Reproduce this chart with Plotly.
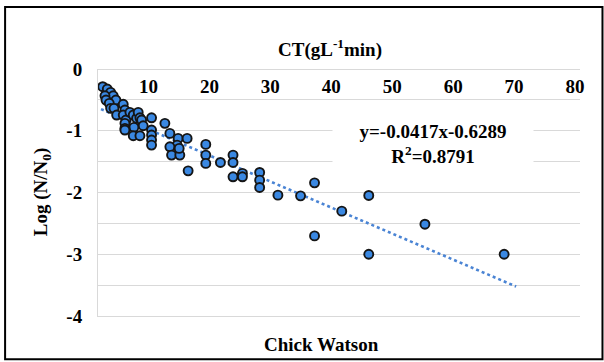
import plotly.graph_objects as go

# ---------------- data ----------------
ct_values = [0.78, 1.54, 2.10, 2.53, 1.16, 1.33, 2.98, 1.87, 2.10, 2.65, 3.10, 4.19, 4.47, 4.19,
             4.64, 5.30, 5.85, 6.41, 6.67, 6.96, 7.24, 7.50, 5.96, 5.85, 6.96, 8.89, 8.89, 8.89,
             8.89, 8.89, 11.10, 11.93, 13.30, 14.79, 13.13, 11.93, 12.21, 13.58, 13.47, 14.96,
             17.89, 17.89, 17.89, 20.32, 22.41, 22.41, 22.41, 23.97, 23.97, 26.83, 26.83, 26.83,
             29.86, 33.62, 35.94, 40.46, 44.94, 35.94, 44.94, 54.26, 67.41, 4.47, 4.47, 4.47]
log_ratio = [-0.287, -0.324, -0.378, -0.433, -0.433, -0.503, -0.503, -0.556, -0.637, -0.637,
             -0.746, -0.572, -0.665, -0.746, -0.827, -0.702, -0.746, -0.799, -0.702, -0.790,
             -0.827, -0.919, -0.945, -1.081, -1.081, -0.790, -0.989, -1.070, -1.151, -1.232,
             -0.880, -1.043, -1.124, -1.124, -1.232, -1.260, -1.394, -1.394, -1.286, -1.649,
             -1.221, -1.394, -1.529, -1.513, -1.394, -1.513, -1.746, -1.691, -1.746, -1.675,
             -1.800, -1.918, -2.043, -2.054, -1.844, -2.302, -2.048, -2.703, -3.000, -2.513,
             -3.000, -0.880, -0.962, -0.989]

trend_slope = -0.0417
trend_intercept = -0.6289
trend_x_span = [0.5, 69.4]
equation_lines = ["y=-0.0417x-0.6289", "R<sup>2</sup>=0.8791"]

x_ticks = [10, 20, 30, 40, 50, 60, 70, 80]
y_ticks = [0, -1, -2, -3, -4]
y_minor_grid = [-0.5, -1.5, -2.5, -3.5]

x_title = "CT(gL<sup>-1</sup>min)"
bottom_title = "Chick Watson"
y_title = "Log (N/N<sub>0</sub>)"

# ---------------- layout geometry (pixels) ----------------
W, H = 604, 362
PL, PR, PT, PB = 98, 580.5, 69, 315.7


def px_x(p):
    return (p - PL) / (PR - PL)


def px_y(p):
    return (PB - p) / (PB - PT)


FONT = "'Liberation Serif', 'Times New Roman', serif"
FS = 19
BLUE = "#3A88E2"
GRID = "#D9D9D9"

trend_y = [trend_slope * v + trend_intercept for v in trend_x_span]

fig = go.Figure()
fig.add_trace(go.Scatter(
    x=trend_x_span, y=trend_y, mode="lines",
    line=dict(color="#4A84D4", width=2.6, dash="dot"),
    hoverinfo="skip", showlegend=False))
fig.add_trace(go.Scatter(
    x=ct_values, y=log_ratio, mode="markers",
    marker=dict(size=9, color=BLUE, line=dict(color="#151515", width=1.9)),
    showlegend=False))

# label-only axis for the CT tick labels drawn under the top edge
fig.add_trace(go.Scatter(x=[x_ticks[0]], y=[0], xaxis="x2", mode="markers",
                         marker=dict(opacity=0), hoverinfo="skip", showlegend=False))

fig.update_layout(
    width=W, height=H,
    margin=dict(l=PL, r=W - PR, t=PT, b=H - PB, pad=0),
    paper_bgcolor="white", plot_bgcolor="white",
    font=dict(family=FONT, color="black"),
    xaxis=dict(range=[0, 80], showgrid=False, zeroline=False, showticklabels=False,
               ticks="", showline=True, linecolor=GRID, linewidth=1),
    xaxis2=dict(overlaying="x", anchor="free", position=1, side="bottom",
                range=[1.72, 80.82],
                tickvals=x_ticks, ticktext=[f"<b>{v}</b>" for v in x_ticks],
                ticks="", showgrid=False, zeroline=False,
                showline=False, tickfont=dict(family=FONT, size=FS, color="black"),
                ticklabelstandoff=4),
    yaxis=dict(range=[-4, 0], tickvals=y_ticks,
               ticktext=[f"<b>{t}</b>" for t in y_ticks],
               showgrid=True, gridcolor=GRID, gridwidth=1,
               minor=dict(tickvals=y_minor_grid, showgrid=True, gridcolor=GRID,
                          gridwidth=1, ticks=""),
               zeroline=True, zerolinecolor=GRID, zerolinewidth=1,
               showline=True, linecolor=GRID, linewidth=1, ticks="",
               tickfont=dict(family=FONT, size=FS, color="black"),
               ticklabelstandoff=11),
    annotations=[
        dict(text=f"<b>{x_title}</b>", xref="paper", yref="paper",
             x=px_x(330.5), y=px_y(49), xanchor="center", yanchor="middle",
             showarrow=False, font=dict(family=FONT, size=FS, color="black")),
        dict(text=f"<b>{bottom_title}</b>", xref="paper", yref="paper",
             x=px_x(322), y=px_y(344), xanchor="center", yanchor="middle",
             showarrow=False, font=dict(family=FONT, size=FS, color="black")),
        dict(text=f"<b>{y_title}</b>", xref="paper", yref="paper",
             x=px_x(42), y=px_y(192), xanchor="center", yanchor="middle",
             textangle=-90, showarrow=False,
             font=dict(family=FONT, size=FS, color="black")),
        dict(text="<b>" + "<br>".join(equation_lines) + "</b>", xref="paper", yref="paper",
             x=px_x(433), y=px_y(144), xanchor="center", yanchor="middle",
             width=198, align="center", bgcolor="white", showarrow=False,
             font=dict(family=FONT, size=FS, color="black")),
    ],
    shapes=[
        dict(type="rect", xref="paper", yref="paper",
             x0=px_x(5), x1=px_x(603), y0=px_y(359), y1=px_y(7),
             line=dict(color="black", width=2), fillcolor="rgba(0,0,0,0)", layer="below"),
    ],
)

fig.write_html("out.html")
